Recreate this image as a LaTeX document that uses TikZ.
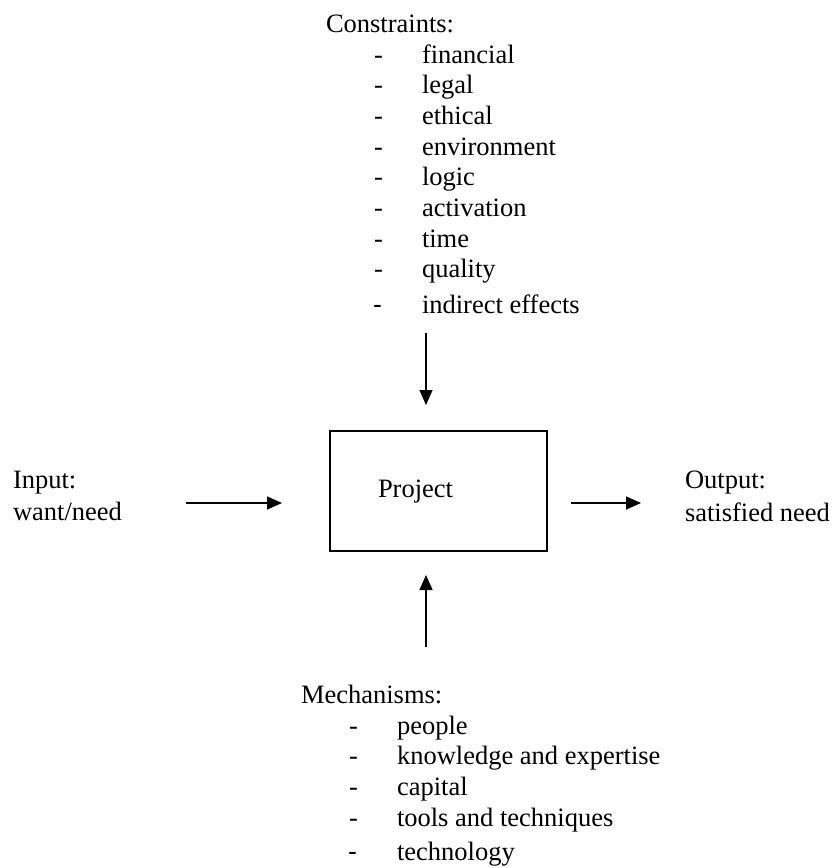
\documentclass[tikz,border=0pt]{standalone}
\usepackage{fontspec}
\setmainfont{Liberation Serif}
\newfontfamily\dashfont{Liberation Sans}
\usetikzlibrary{arrows.meta}

\begin{document}
\begin{tikzpicture}[x=1pt,y=-1pt,
  every node/.style={inner sep=0pt, outer sep=0pt,
    font=\fontsize{26.5}{30.7}\selectfont},
  txt/.style={anchor=base west},
  flow/.style={line width=1.4pt, -{Triangle[length=15pt,width=13pt]}},
  projbox/.style={draw, line width=1.4pt,
    minimum width=217pt, minimum height=120pt}]

  \useasboundingbox (0,0) rectangle (833,868);

  % central activity box
  \node[projbox] (proj) at (438.5,491) {};
  \node[txt] (projlabel) at (378,497) {Project};

  % constraints list
  \node[txt] (constr) at (326,32) {Constraints:};
  \foreach \t [count=\i] in {financial,legal,ethical,environment,logic,activation,time,quality}{
    \node[txt] (cd\i) at (374,{63+30.7*(\i-1)}) {-};
    \node[txt] (c\i) at (422,{63+30.7*(\i-1)}) {\t};
  }
  \node[txt] (cd9) at (373,313) {\dashfont -};
  \node[txt] (c9) at (422,313) {indirect effects};

  % mechanisms list
  \node[txt] (mech) at (301,703) {Mechanisms:};
  \foreach \t [count=\i] in {people,knowledge and expertise,capital,tools and techniques}{
    \node[txt] (md\i) at (349,{734+30.7*(\i-1)}) {-};
    \node[txt] (m\i) at (397,{734+30.7*(\i-1)}) {\t};
  }
  \node[txt] (md5) at (348,860) {\dashfont -};
  \node[txt] (m5) at (397,860) {technology};

  % input and output labels
  \node[txt] (in1) at (13,488) {Input:};
  \node[txt] (in2) at (13,520) {want/need};
  \node[txt] (out1) at (685,488) {Output:};
  \node[txt] (out2) at (685,521) {satisfied need};

  % arrow ends
  \coordinate (ctail) at (426,333);
  \coordinate (mtail) at (426,647);
  \coordinate (itail) at (186,503);
  \coordinate (otip) at (641,503);

  % connectors
  \draw[flow, shorten >=26pt] (ctail) -- (ctail |- proj.north);
  \draw[flow, shorten >=24pt] (mtail) -- (mtail |- proj.south);
  \draw[flow, shorten >=48pt] (itail) -- (itail -| proj.west);
  \draw[flow, shorten <=24pt] (otip -| proj.east) -- (otip);
\end{tikzpicture}
\end{document}
